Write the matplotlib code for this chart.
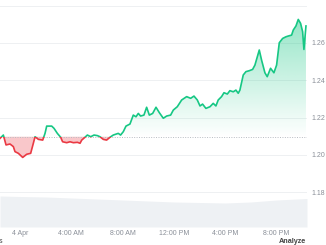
import numpy as np
import matplotlib
matplotlib.use("Agg")
import matplotlib.pyplot as plt
from matplotlib.patches import Rectangle
from matplotlib.path import Path

# Price data (hours from 4 Apr 00:00, price USD)
hours = [-1.56, -1.30, -1.09, -0.78, -0.52, -0.39, -0.13, 0.21, 0.52, 0.83,
         1.04, 1.17, 1.43, 1.77, 1.95, 2.08, 2.47, 2.65, 2.91, 3.17,
         3.32, 3.64, 3.90, 4.16, 4.47, 4.68, 4.81, 5.06, 5.25, 5.51,
         5.77, 6.03, 6.23, 6.49, 6.75, 7.01, 7.27, 7.66, 7.84, 8.05,
         8.26, 8.57, 8.83, 9.04, 9.22, 9.40, 9.66, 9.87, 10.08, 10.34,
         10.60, 10.86, 11.17, 11.43, 11.74, 11.95, 12.26, 12.60, 12.99, 13.30,
         13.56, 13.82, 14.03, 14.23, 14.49, 14.81, 15.06, 15.27, 15.45, 15.71,
         15.90, 16.16, 16.36, 16.62, 16.83, 17.01, 17.14, 17.40, 17.61, 17.87,
         18.13, 18.31, 18.65, 18.83, 19.09, 19.27, 19.53, 19.79, 20.00, 20.21,
         20.47, 20.73, 20.91, 21.17, 21.30, 21.51, 21.69, 21.87, 22.03, 22.13,
         22.29]
price = [1.2088, 1.2106, 1.2053, 1.2058, 1.2044, 1.2017, 1.2008, 1.1986, 1.2003, 1.2008,
         1.2062, 1.2097, 1.2083, 1.2079, 1.2115, 1.2154, 1.2154, 1.2142, 1.2115, 1.2094,
         1.2070, 1.2065, 1.2070, 1.2065, 1.2067, 1.2062, 1.2079, 1.2094, 1.2106, 1.2097,
         1.2106, 1.2103, 1.2097, 1.2083, 1.2079, 1.2094, 1.2106, 1.2115, 1.2106, 1.2124,
         1.2154, 1.2165, 1.2213, 1.2204, 1.2222, 1.2208, 1.2213, 1.2255, 1.2213, 1.2222,
         1.2255, 1.2226, 1.2196, 1.2208, 1.2213, 1.2240, 1.2258, 1.2294, 1.2312, 1.2303,
         1.2315, 1.2294, 1.2262, 1.2272, 1.2249, 1.2258, 1.2276, 1.2262, 1.2294, 1.2312,
         1.2333, 1.2326, 1.2344, 1.2338, 1.2347, 1.2330, 1.2347, 1.2428, 1.2446, 1.2451,
         1.2458, 1.2481, 1.2562, 1.2508, 1.2440, 1.2419, 1.2464, 1.2440, 1.2481, 1.2601,
         1.2624, 1.2633, 1.2637, 1.2642, 1.2669, 1.2691, 1.2726, 1.2705, 1.2660, 1.2565,
         1.2691]
baseline = 1.2097

# Volume (arbitrary units)
vol_hours = [-1.56, 0.0, 2.0, 4.0, 6.0, 8.0, 10.0, 12.0, 14.0, 16.0, 18.0, 20.0, 22.37]
volume = [31.0, 30.5, 30.0, 29.0, 28.0, 27.0, 26.0, 25.0, 24.5, 24.0, 25.0, 27.0, 28.5]

tick_hours = [0, 4, 8, 12, 16, 20]
tick_labels = ['4 Apr', '4:00 AM', '8:00 AM', '12:00 PM', '4:00 PM', '8:00 PM']
y_ticks = [1.18, 1.20, 1.22, 1.24, 1.26]

GREEN = '#16c784'
RED = '#ea3943'
plt.rcParams['font.family'] = ['Liberation Sans', 'DejaVu Sans']

hours = np.array(hours)
price = np.array(price)
xlim = (-1.56, 22.37)
ylim = (1.1613, 1.2798)

fig = plt.figure(figsize=(3.26, 2.45), dpi=100)
fig.patch.set_facecolor('white')

# volume underneath
axv = fig.add_axes([0, 0.0735, 0.9417, 0.902])
axv.fill_between(vol_hours, 0, volume, color='#eef1f4', lw=0)
axv.set_xlim(xlim)
axv.set_ylim(0, 221)
axv.axis('off')

ax = fig.add_axes([0, 0.0735, 0.9417, 0.902], sharex=axv)
ax.patch.set_alpha(0)
ax.set_xlim(xlim)
ax.set_ylim(ylim)

for v in y_ticks + [1.28]:
    ax.axhline(v, color='#eef0f2', lw=0.7, zorder=0)

# green gradient fill above baseline
top = price.max()
rgba = np.zeros((256, 1, 4))
rgba[..., 0] = 0x16 / 255
rgba[..., 1] = 0xc7 / 255
rgba[..., 2] = 0x84 / 255
rgba[..., 3] = np.linspace(0.0, 0.45, 256).reshape(-1, 1)
img = ax.imshow(rgba, extent=[xlim[0], xlim[1], baseline, top], origin='lower',
                aspect='auto', zorder=1, interpolation='bilinear')
poly = ax.fill_between(hours, baseline, price, where=price >= baseline,
                       interpolate=True, color='none', lw=0)
paths = poly.get_paths()
verts = np.concatenate([p.vertices for p in paths])
codes = np.concatenate([p.codes for p in paths])
img.set_clip_path(Path(verts, codes), transform=ax.transData)

ax.fill_between(hours, baseline, price, where=price <= baseline,
                interpolate=True, color=RED, alpha=0.28, lw=0, zorder=1)

ax.axhline(baseline, color='#b8bcc2', lw=0.7, ls=(0, (1, 1.5)), zorder=2)

lg, = ax.plot(hours, price, color=GREEN, lw=1.2, zorder=3)
lr, = ax.plot(hours, price, color=RED, lw=1.2, zorder=3)
lg.set_clip_path(Rectangle((xlim[0], baseline), xlim[1] - xlim[0], 1, transform=ax.transData))
lr.set_clip_path(Rectangle((xlim[0], baseline - 1), xlim[1] - xlim[0], 1, transform=ax.transData))

ax.set_xticks(tick_hours)
ax.set_xticklabels(tick_labels)
ax.yaxis.tick_right()
ax.set_yticks(y_ticks)
ax.set_yticklabels(['%.2f' % v for v in y_ticks])
ax.tick_params(axis='both', length=0, labelsize=5, labelcolor='#8a8f98')
ax.tick_params(axis='x', pad=2.5)
ax.tick_params(axis='y', pad=3)
for s in ax.spines.values():
    s.set_visible(False)

fig.text(0.938, 0.0, 'Analyze', ha='right', va='bottom', fontsize=5.2,
         color='#444444', fontweight='bold')
fig.text(-0.004, 0.0, 's', ha='left', va='bottom', fontsize=5, color='#444444')

fig.savefig('out.png', dpi=100)
